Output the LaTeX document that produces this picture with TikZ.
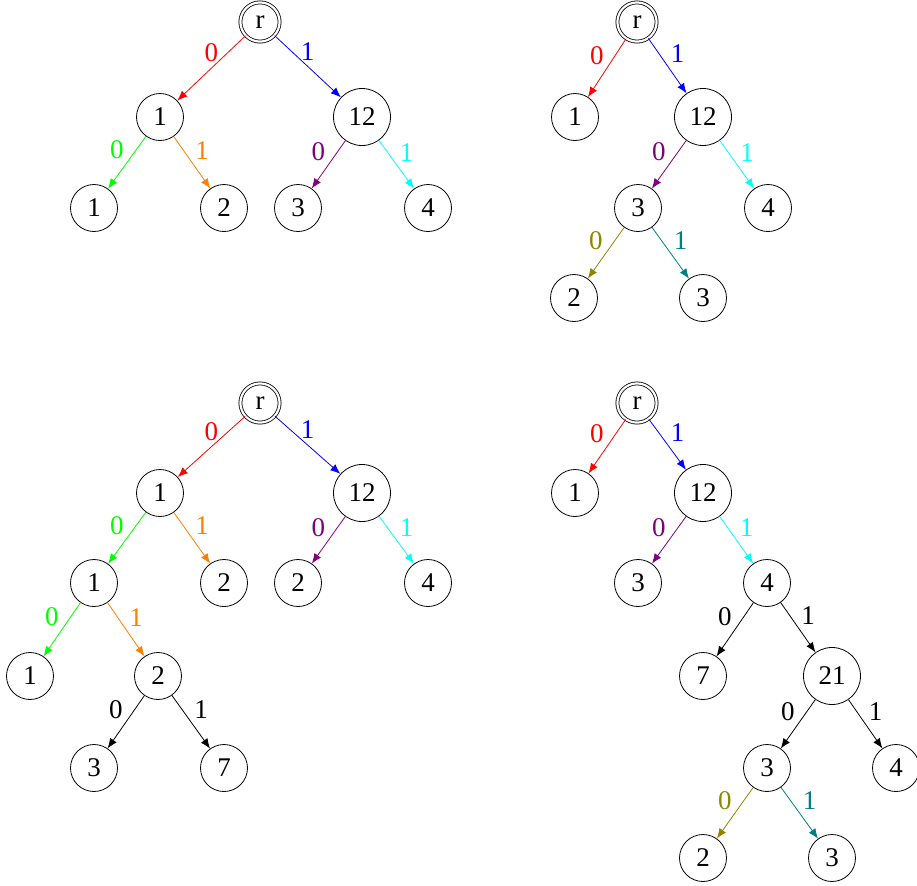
\documentclass[tikz,border=0pt]{standalone}
\usepackage{fontspec}
\setmainfont{Liberation Serif}
\usetikzlibrary{arrows.meta, positioning}

\definecolor{cyanedge}{rgb}{0,1,1}

\tikzset{
  st/.style={draw, circle, minimum size=23.5pt, inner sep=1pt, font=\fontsize{13.5}{16}\selectfont},
  big/.style={st, minimum size=28.5pt},
  root/.style={st, minimum size=19.6pt, double, double distance=1.1pt},
  e/.style={-{Latex[length=5pt,width=4pt]}},
  lt/.style={above, inner sep=3pt, font=\fontsize{13.5}{16}\selectfont},
  l0/.style={above left, inner sep=1.5pt, font=\fontsize{13.5}{16}\selectfont},
  l1/.style={above right, inner sep=1.5pt, font=\fontsize{13.5}{16}\selectfont}
}

\begin{document}
\begin{tikzpicture}[x=0.5pt, y=-0.5pt]
    \useasboundingbox (0,0) rectangle (917,885);

    % first tree
    \node[root] (a0) at (260,22) {r};
    \node[st] (a1) at (160,117) {1};
    \node[big] (a2) at (362,117) {12};
    \node[st] (a3) at (94,208) {1};
    \node[st] (a4) at (224,208) {2};
    \node[st] (a5) at (298,208) {3};
    \node[st] (a6) at (428,208) {4};

    \draw[e, red] (a0) -- node[lt] {0} (a1);
    \draw[e, blue] (a0) -- node[lt] {1} (a2);
    \draw[e, green] (a1) -- node[l0] {0} (a3);
    \draw[e, orange] (a1) -- node[l1] {1} (a4);
    \draw[e, violet] (a2) -- node[l0] {0} (a5);
    \draw[e, cyanedge] (a2) -- node[l1] {1} (a6);

    % second tree
    \node[root] (b0) at (637,22) {r};
    \node[st] (b1) at (575,117) {1};
    \node[big] (b2) at (703,117) {12};
    \node[st] (b3) at (638,208) {3};
    \node[st] (b4) at (768,208) {4};
    \node[st] (b5) at (574,298) {2};
    \node[st] (b6) at (703,298) {3};

    \draw[e, red] (b0) -- node[l0] {0} (b1);
    \draw[e, blue] (b0) -- node[l1] {1} (b2);
    \draw[e, violet] (b2) -- node[l0] {0} (b3);
    \draw[e, cyanedge] (b2) -- node[l1] {1} (b4);
    \draw[e, olive] (b3) -- node[l0] {0} (b5);
    \draw[e, teal] (b3) -- node[l1] {1} (b6);

    % third tree
    \node[root] (c0) at (260,403) {r};
    \node[st] (c1) at (160,493) {1};
    \node[big] (c2) at (362,493) {12};
    \node[st] (c3) at (94,583) {1};
    \node[st] (c4) at (224,583) {2};
    \node[st] (c5) at (298,583) {2};
    \node[st] (c6) at (428,583) {4};
    \node[st] (c7) at (30,676) {1};
    \node[st] (c8) at (158,676) {2};
    \node[st] (c9) at (94,768) {3};
    \node[st] (c10) at (224,768) {7};

    \draw[e, red] (c0) -- node[lt] {0} (c1);
    \draw[e, blue] (c0) -- node[lt] {1} (c2);
    \draw[e, green] (c1) -- node[l0] {0} (c3);
    \draw[e, orange] (c1) -- node[l1] {1} (c4);
    \draw[e, violet] (c2) -- node[l0] {0} (c5);
    \draw[e, cyanedge] (c2) -- node[l1] {1} (c6);
    \draw[e, green] (c3) -- node[l0] {0} (c7);
    \draw[e, orange] (c3) -- node[l1] {1} (c8);
    \draw[e] (c8) -- node[l0] {0} (c9);
    \draw[e] (c8) -- node[l1] {1} (c10);

    % fourth tree
    \node[root] (d0) at (637,403) {r};
    \node[st] (d1) at (575,493) {1};
    \node[big] (d2) at (703,493) {12};
    \node[st] (d3) at (638,583) {3};
    \node[st] (d4) at (767,583) {4};
    \node[st] (d5) at (703,676) {7};
    \node[big] (d6) at (832,676) {21};
    \node[st] (d7) at (767,768) {3};
    \node[st] (d8) at (896,768) {4};
    \node[st] (d9) at (703,858) {2};
    \node[st] (d10) at (832,858) {3};

    \draw[e, red] (d0) -- node[l0] {0} (d1);
    \draw[e, blue] (d0) -- node[l1] {1} (d2);
    \draw[e, violet] (d2) -- node[l0] {0} (d3);
    \draw[e, cyanedge] (d2) -- node[l1] {1} (d4);
    \draw[e] (d4) -- node[l0] {0} (d5);
    \draw[e] (d4) -- node[l1] {1} (d6);
    \draw[e] (d6) -- node[l0] {0} (d7);
    \draw[e] (d6) -- node[l1] {1} (d8);
    \draw[e, olive] (d7) -- node[l0] {0} (d9);
    \draw[e, teal] (d7) -- node[l1] {1} (d10);
\end{tikzpicture}
\end{document}
